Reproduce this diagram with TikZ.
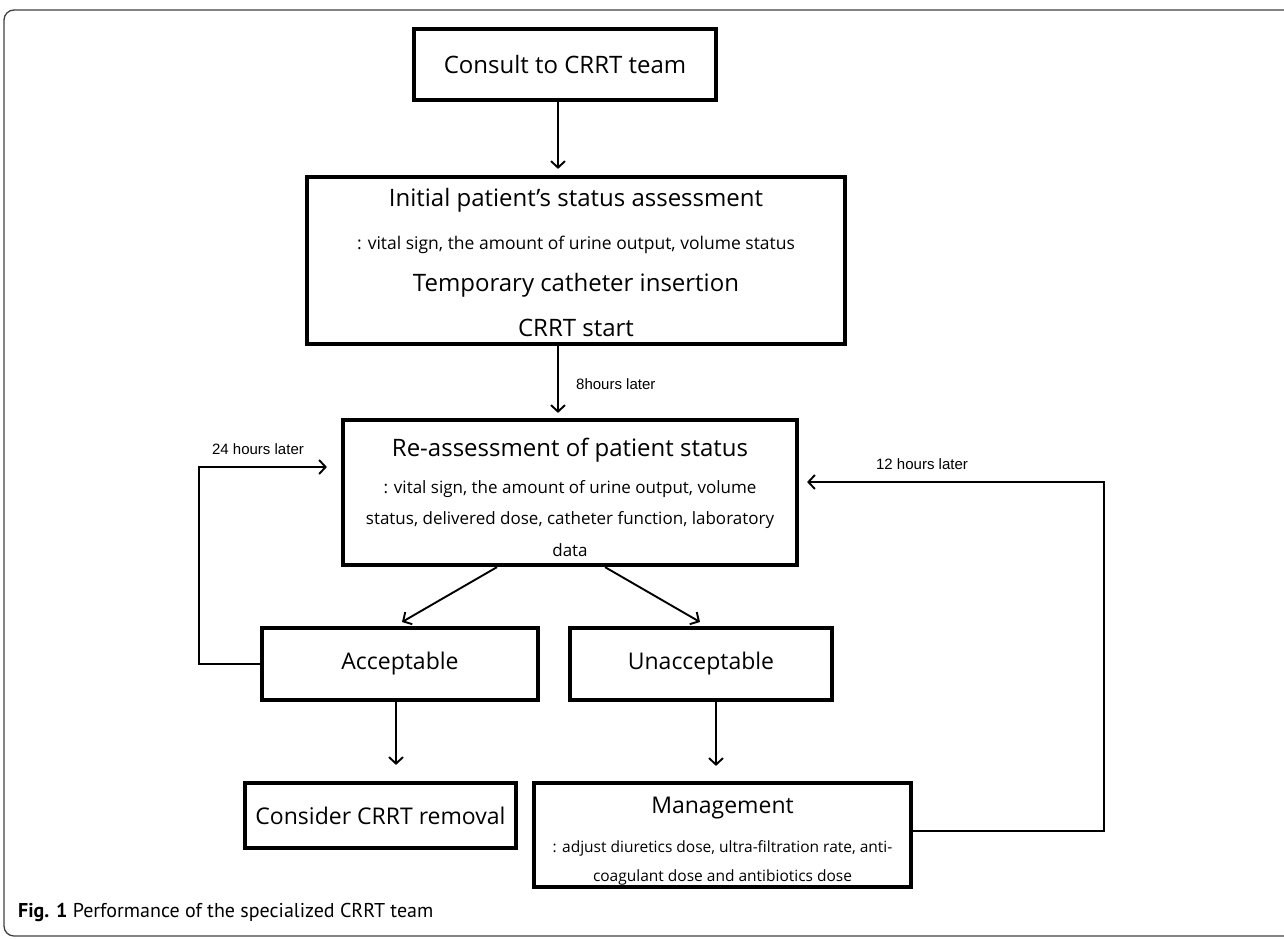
\documentclass[tikz,border=0pt]{standalone}
\usepackage{fontspec}
\setmainfont{Open Sans}
\newfontfamily\labfont{Liberation Sans}
\newfontfamily\capfont{PT Sans}
\usetikzlibrary{arrows.meta,calc}
\newcommand{\mainbig}{\fontsize{24}{28}\selectfont}
\newcommand{\mainmid}{\fontsize{23}{27}\selectfont}
\newcommand{\subtxt}{\fontsize{17.5}{21}\selectfont}
\newcommand{\subsmall}{\fontsize{15.5}{19}\selectfont}
\begin{document}
\begin{tikzpicture}[x=1pt,y=-1pt,
  box/.style={draw, line width=4.2pt, inner sep=0pt},
  txt/.style={inner sep=0pt},
  arr/.style={line width=1.9pt, -{Straight Barb[length=6.5pt,width=14pt]}},
  lab/.style={font=\labfont\fontsize{15}{18}\selectfont, inner sep=0pt}]
\useasboundingbox (0,0) rectangle (1284,938);
\draw[line width=1.3pt, rounded corners=10pt, black!75] (4,10) rectangle (1310,936);

% boxes
\node[box, minimum width=302pt, minimum height=71pt, font=\mainbig] (consult) at (565,64.5) {Consult to CRRT team};

\node[box, minimum width=538pt, minimum height=167pt] (init) at (576,260.5) {};
\node[txt, font=\mainbig] (init1) at (576,200) {Initial patient’s status assessment};
\node[txt, font=\subtxt] (init2) at (576,245) {: vital sign, the amount of urine output, volume status};
\node[txt, font=\mainbig] (init3) at (576,285) {Temporary catheter insertion};
\node[txt, font=\mainbig] (init4) at (576,328) {CRRT start};

\node[box, minimum width=454pt, minimum height=145pt] (reas) at (570,492.5) {};
\node[txt, font=\mainbig] (reas1) at (570,450) {Re-assessment of patient status};
\node[txt, font=\fontsize{17}{20}\selectfont] (reas2) at (570,489) {: vital sign, the amount of urine output, volume};
\node[txt, font=\fontsize{17}{20}\selectfont] (reas3) at (570,520) {status, delivered dose, catheter function, laboratory};
\node[txt, font=\fontsize{17}{20}\selectfont] (reas4) at (570,550) {data};

\node[box, minimum width=276pt, minimum height=72pt, font=\mainmid] (accept) at (400,664) {Acceptable};
\node[box, minimum width=262pt, minimum height=72pt, font=\mainmid] (unaccept) at (701,664) {Unacceptable};

\node[box, minimum width=271pt, minimum height=65pt, font=\mainmid] (consider) at (380.5,815.5) {Consider CRRT removal};

\node[box, minimum width=377pt, minimum height=104pt] (mgmt) at (722.5,835) {};
\node[txt, font=\mainmid] (mgmt1) at (722.5,808) {Management};
\node[txt, font=\subsmall] (mgmt2) at (722.5,848) {: adjust diuretics dose, ultra-filtration rate, anti-};
\node[txt, font=\subsmall] (mgmt3) at (722.5,877) {coagulant dose and antibiotics dose};

% helper coordinates
\coordinate (xa) at (558,0);
\coordinate (d1s) at (497,0);
\coordinate (d1e) at (402,622);
\coordinate (d2s) at (605,0);
\coordinate (d2e) at (700,622);
\coordinate (xac) at (396,0);
\coordinate (xun) at (716,0);
\coordinate (lc) at (199,467);
\coordinate (rc) at (1104,482);

% connectors
\draw[arr, shorten >=6pt] (consult.south -| xa) -- (init.north -| xa);
\draw[arr, shorten >=5pt] (init.south -| xa) -- (reas.north -| xa);
\node[lab, anchor=west] (lab8) at (576,384) {8hours later};
\draw[arr] (reas.south -| d1s) -- (d1e);
\draw[arr] (reas.south -| d2s) -- (d2e);
\draw[arr, shorten >=16pt] (accept.south -| xac) -- (consider.north -| xac);
\draw[arr, shorten >=15pt] (unaccept.south -| xun) -- (mgmt.north -| xun);
\draw[arr, shorten >=14pt] (accept.west) -| (lc) -- (reas.west |- lc);
\draw[arr, shorten >=8pt] ([yshift=4pt]mgmt.east) -| (rc) -- (reas.east |- rc);
\node[lab] (lab24) at (258,449) {24 hours later};
\node[lab] (lab12) at (922,464) {12 hours later};

% caption
\node[anchor=west, inner sep=0pt, font=\capfont\fontsize{20}{24}\selectfont] (cap) at (18,912) {\textbf{Fig. 1} Performance of the specialized CRRT team};
\end{tikzpicture}
\end{document}
